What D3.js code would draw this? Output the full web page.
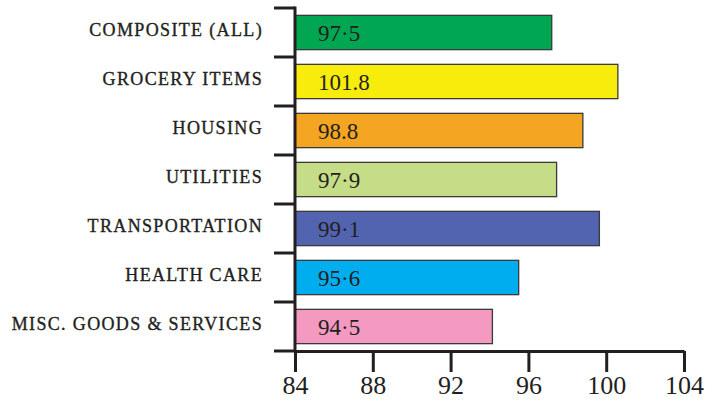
<!DOCTYPE html>
<html>
<head>
<meta charset="utf-8">
<script src="https://cdn.jsdelivr.net/npm/d3@7"></script>
<style>
  body { margin: 0; background: #fff; }
  text { font-family: "Liberation Serif", "DejaVu Serif", serif; fill: #231f20; }
</style>
</head>
<body>
<div class="chart"></div>
<script>
// categories, top to bottom
const categories = ['COMPOSITE (ALL)', 'GROCERY ITEMS', 'HOUSING', 'UTILITIES',
    'TRANSPORTATION', 'HEALTH CARE', 'MISC. GOODS & SERVICES'];
// bar ends as read against the x axis
const barValues = [97.2, 100.6, 98.8, 97.45, 99.65, 95.5, 94.15];
// the numbers printed inside the bars
const valueLabels = ['97·5', '101.8', '98.8', '97·9', '99·1', '95·6', '94·5'];
const barColors = ['#00a651', '#f7ec0b', '#f4a521', '#c6dd88', '#5263af', '#00aeef', '#f49ac0'];
const xTicks = [84, 88, 92, 96, 100, 104];

const width = 725;
const height = 402;
const ink = '#231f20';

const svg = d3.select('.chart').append('svg')
    .attr('width', width)
    .attr('height', height)

const xScale = d3.scaleLinear()
    .domain([84, 104])
    .range([295, 684])

const yScale = d3.scaleBand()
    .domain(categories)
    .range([8, 351])
    .paddingInner(0.3)
    .paddingOuter(0.15)

// bars
svg.selectAll('.bar')
    .data(categories)
    .enter()
    .append('rect')
    .attr('class', 'bar')
    .attr('x', xScale(84))
    .attr('y', d => yScale(d))
    .attr('width', (d, i) => xScale(barValues[i]) - xScale(84))
    .attr('height', yScale.bandwidth())
    .attr('fill', (d, i) => barColors[i])
    .attr('stroke', '#3a3a3a')
    .attr('stroke-width', 1.3)

// values inside bars
svg.selectAll('.val')
    .data(categories)
    .enter()
    .append('text')
    .attr('class', 'val')
    .attr('x', xScale(84) + 23)
    .attr('y', d => yScale(d) + yScale.bandwidth() / 2 + 8)
    .attr('font-size', 23)
    .text((d, i) => valueLabels[i])

// x axis
const xAxis = d3.axisBottom(xScale)
    .tickValues(xTicks)
    .tickSize(21)
    .tickSizeOuter(0)
    .tickPadding(4)

const gx = svg.append('g')
    .attr('transform', 'translate(0,351)')
    .call(xAxis)
gx.select('.domain').attr('stroke', ink).attr('stroke-width', 3)
gx.selectAll('.tick line').attr('stroke', ink).attr('stroke-width', 3)
gx.selectAll('.tick text')
    .attr('font-size', 26)
    .attr('font-family', '"Liberation Serif", serif')
    .attr('fill', ink)

// y axis: category labels
const yAxis = d3.axisLeft(yScale)
    .tickSize(0)
    .tickPadding(32)

const gy = svg.append('g')
    .attr('transform', 'translate(' + xScale(84) + ',0)')
    .call(yAxis)
gy.select('.domain').remove()
gy.selectAll('.tick text')
    .attr('font-size', 18)
    .attr('font-family', '"Liberation Serif", serif')
    .attr('letter-spacing', 1.35)
    .attr('dy', '0.2em')
    .attr('fill', ink)
    .attr('stroke', ink)
    .attr('stroke-width', 0.35)

// y axis line and ticks between the bands
const step = yScale.step();
const bounds = categories.map(c => yScale(c) - step * yScale.paddingInner() / 2)
bounds[0] = yScale.range()[0]
bounds.push(yScale.range()[1])

svg.append('line')
    .attr('x1', xScale(84)).attr('x2', xScale(84))
    .attr('y1', yScale.range()[0] - 1.5).attr('y2', yScale.range()[1])
    .attr('stroke', ink)
    .attr('stroke-width', 3)

svg.selectAll('.ytick')
    .data(bounds)
    .enter()
    .append('line')
    .attr('class', 'ytick')
    .attr('x1', xScale(84) - 21)
    .attr('x2', xScale(84))
    .attr('y1', d => d)
    .attr('y2', d => d)
    .attr('stroke', ink)
    .attr('stroke-width', 3)
</script>
</body>
</html>
